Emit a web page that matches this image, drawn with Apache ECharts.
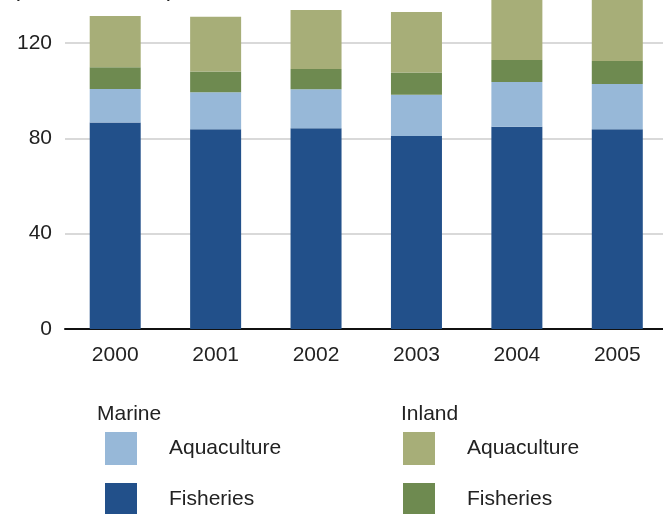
<!DOCTYPE html>
<html>
<head>
<meta charset="utf-8">
<script src="https://cdn.jsdelivr.net/npm/echarts@6/dist/echarts.min.js"></script>
<style>
html,body{margin:0;padding:0;background:#fff;}
#chart{width:663px;height:514px;}
</style>
</head>
<body>
<div id="chart"></div>
<script>
var years = ['2000', '2001', '2002', '2003', '2004', '2005'];
var marineFisheries = [86.6, 83.8, 84.2, 81.0, 84.9, 83.8];
var marineAquaculture = [14.1, 15.5, 16.4, 17.3, 18.7, 19.0];
var inlandFisheries = [9.1, 8.7, 8.5, 9.3, 9.3, 9.7];
var inlandAquaculture = [21.5, 23.0, 24.8, 25.4, 27.2, 28.9];
var yTicks = [0, 40, 80, 120, 160];
var unitLabel = '(million tonnes)';

var FONT = '"Liberation Sans", Arial, sans-serif';
var chart = echarts.init(document.getElementById('chart'), null, {renderer: 'canvas'});

function legendCfg(names, left) {
  return {
    data: names,
    orient: 'vertical',
    left: left,
    top: 432,
    height: 120,
    padding: 0,
    itemWidth: 32,
    itemHeight: 33,
    itemGap: 18,
    icon: 'rect',
    selectedMode: false,
    formatter: function (n) { return n.split(' ')[1]; },
    textStyle: {fontFamily: FONT, fontSize: 21, color: '#222', padding: [0, 0, 0, 27]}
  };
}

var option = {
  animation: false,
  backgroundColor: '#fff',
  grid: {left: 65, right: -4.5, top: -52.3, bottom: 185, containLabel: false, outerBoundsMode: 'none'},
  xAxis: {
    type: 'category',
    data: years,
    axisLine: {lineStyle: {color: '#111', width: 2}},
    axisTick: {show: false},
    axisLabel: {fontFamily: FONT, fontSize: 21, color: '#222', margin: 16}
  },
  yAxis: {
    type: 'value',
    min: yTicks[0],
    max: yTicks[yTicks.length - 1],
    interval: 40,
    axisLine: {show: false},
    axisTick: {show: false},
    axisLabel: {fontFamily: FONT, fontSize: 21, color: '#222', margin: 13},
    splitLine: {lineStyle: {color: '#cccccc', width: 1.5}}
  },
  legend: [
    legendCfg(['Marine Aquaculture', 'Marine Fisheries'], 105),
    legendCfg(['Inland Aquaculture', 'Inland Fisheries'], 403)
  ],
  graphic: [
    {type: 'text', left: 97, top: 404, style: {text: 'Marine', font: '21px ' + FONT, fill: '#222'}},
    {type: 'text', left: 401, top: 404, style: {text: 'Inland', font: '21px ' + FONT, fill: '#222'}},
    {type: 'text', left: 12, top: -23, style: {text: unitLabel, font: '24px ' + FONT, fill: '#222'}}
  ],
  series: [
    {name: 'Marine Fisheries', type: 'bar', stack: 't', data: marineFisheries, barWidth: 51, itemStyle: {color: '#22508a'}},
    {name: 'Marine Aquaculture', type: 'bar', stack: 't', data: marineAquaculture, barWidth: 51, itemStyle: {color: '#97b8d8'}},
    {name: 'Inland Fisheries', type: 'bar', stack: 't', data: inlandFisheries, barWidth: 51, itemStyle: {color: '#6e8a50'}},
    {name: 'Inland Aquaculture', type: 'bar', stack: 't', data: inlandAquaculture, barWidth: 51, itemStyle: {color: '#a7ae78'}}
  ]
};
chart.setOption(option);
</script>
</body>
</html>
